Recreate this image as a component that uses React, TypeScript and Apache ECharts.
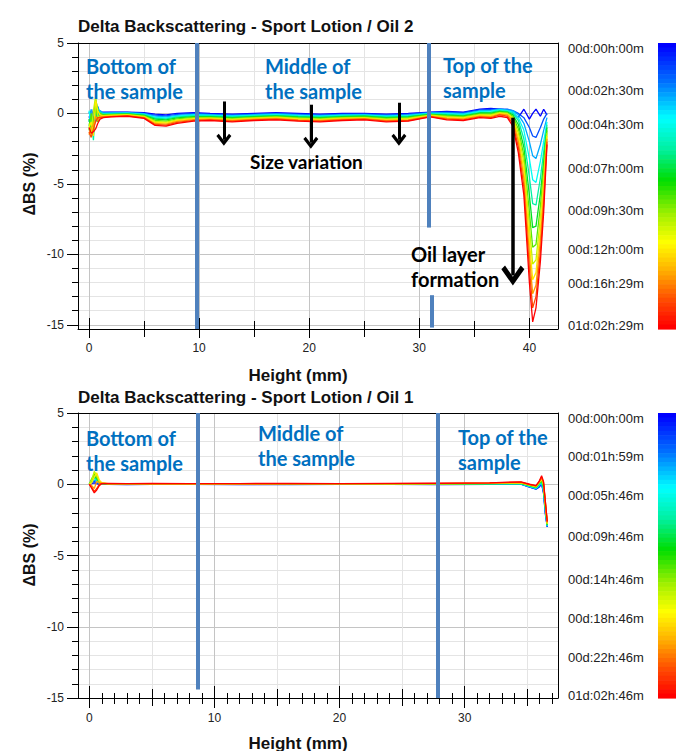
import React, { useEffect, useRef } from "react";
import * as echarts from "echarts";

// ---------- Top chart (Oil 2) ----------
const TOP_X = [0, 0.2, 0.4, 0.6, 0.8, 1.0, 1.3, 2, 3.5, 5, 6, 7, 8, 9.5, 11, 13, 15, 17, 19, 21, 23, 25, 27, 29, 31, 32.5, 34, 35.5, 36.5, 37.3, 38, 38.5, 39, 39.5, 40, 40.3, 40.6, 41, 41.3, 41.6];
const TOP_S0 = [-0.3, 0.2, -0.5, 0.4, 0.1, 0.1, 0.1, 0.1, 0.1, 0.05, -0.05, -0.1, 0, 0.05, 0, -0.05, 0, 0.05, 0, -0.05, 0, 0, -0.05, 0, 0.1, 0.15, 0.1, 0.3, 0.35, 0.3, 0.25, 0.1, -0.3, 0.3, -0.4, 0, 0.3, -0.2, 0.3, -0.1];
const TOP_S1 = [0.1, -0.4, 0.3, -0.6, 0.5, 0, 0.06, 0.07, 0.07, 0.01, -0.12, -0.17, -0.06, 0, -0.05, -0.1, -0.05, 0, -0.05, -0.1, -0.05, -0.04, -0.1, -0.05, 0.07, 0.1, 0.05, 0.25, 0.29, 0.3, 0.3, 0.2, 0, -0.3, -1.0, -1.6, -1.7, -1.0, -0.4, 0];
const TOP_S2 = [-0.6, 0.3, -1.0, 0.6, -0.2, 0.2, 0.03, 0.04, 0.05, -0.02, -0.19, -0.24, -0.13, -0.06, -0.09, -0.15, -0.09, -0.04, -0.1, -0.15, -0.09, -0.08, -0.15, -0.1, 0.04, 0.04, -0.01, 0.19, 0.22, 0.3, 0.25, 0.2, -0.1, -0.7, -2.0, -3.0, -3.2, -2.2, -1.2, -0.3];
const TOP_S3 = [0.2, -0.8, -1.5, 0.2, 0.4, -0.1, -0.01, 0.01, 0.02, -0.06, -0.27, -0.32, -0.19, -0.11, -0.14, -0.2, -0.14, -0.09, -0.15, -0.2, -0.14, -0.12, -0.2, -0.15, 0.01, -0.01, -0.06, 0.14, 0.16, 0.25, 0.2, 0.1, -0.3, -1.2, -3.2, -4.7, -4.9, -3.4, -2.0, -0.6];
const TOP_S4 = [-0.9, -0.3, -1.9, 0.8, -0.4, 0.1, -0.04, -0.03, -0.01, -0.09, -0.34, -0.39, -0.25, -0.17, -0.18, -0.25, -0.18, -0.13, -0.2, -0.25, -0.18, -0.16, -0.25, -0.2, -0.03, -0.07, -0.12, 0.08, 0.1, 0.2, 0.15, 0, -0.5, -1.8, -4.5, -6.4, -6.5, -4.6, -2.7, -0.8];
const TOP_S5 = [-0.4, -1.2, -0.6, 1.0, 0.3, -0.2, -0.08, -0.06, -0.04, -0.13, -0.41, -0.46, -0.32, -0.22, -0.23, -0.3, -0.23, -0.18, -0.25, -0.3, -0.23, -0.2, -0.3, -0.25, -0.06, -0.12, -0.17, 0.03, 0.03, 0.15, 0.1, -0.1, -0.8, -2.4, -5.8, -8.1, -8.0, -5.7, -3.4, -1.0];
const TOP_S6 = [-1.2, 0, -1.3, 0.5, -0.6, 0, -0.12, -0.09, -0.07, -0.17, -0.49, -0.54, -0.39, -0.28, -0.28, -0.35, -0.28, -0.23, -0.3, -0.35, -0.28, -0.25, -0.35, -0.3, -0.09, -0.18, -0.23, -0.03, -0.04, 0.1, 0.05, -0.2, -1.1, -3.0, -7.0, -9.5, -9.3, -6.6, -4.0, -1.2];
const TOP_S7 = [-0.7, -1.5, 0.2, 1.2, -0.2, -0.3, -0.16, -0.12, -0.09, -0.21, -0.56, -0.61, -0.45, -0.33, -0.32, -0.4, -0.32, -0.27, -0.35, -0.4, -0.32, -0.29, -0.4, -0.35, -0.12, -0.23, -0.28, -0.08, -0.1, 0.05, 0, -0.3, -1.4, -3.5, -8.0, -10.7, -10.4, -7.4, -4.6, -1.4];
const TOP_S8 = [-1.0, -0.6, -1.6, 0.9, 0.2, -0.1, -0.19, -0.16, -0.12, -0.24, -0.63, -0.68, -0.51, -0.39, -0.37, -0.45, -0.37, -0.32, -0.4, -0.45, -0.37, -0.33, -0.45, -0.4, -0.16, -0.29, -0.34, -0.14, -0.16, 0, -0.05, -0.4, -1.7, -4.0, -9.0, -11.8, -11.3, -8.2, -5.2, -1.6];
const TOP_S9 = [-1.5, -1.0, -0.8, -0.2, -0.5, -0.2, -0.23, -0.19, -0.15, -0.28, -0.71, -0.76, -0.57, -0.44, -0.41, -0.5, -0.41, -0.36, -0.45, -0.5, -0.41, -0.37, -0.5, -0.45, -0.19, -0.34, -0.39, -0.19, -0.22, -0.05, -0.1, -0.5, -2.0, -4.6, -10.0, -12.8, -12.2, -9.0, -5.8, -1.8];
const TOP_S10 = [-1.3, -1.7, -1.1, -0.6, -0.3, -0.3, -0.26, -0.22, -0.17, -0.31, -0.78, -0.83, -0.64, -0.5, -0.46, -0.55, -0.46, -0.41, -0.5, -0.55, -0.46, -0.41, -0.55, -0.5, -0.22, -0.4, -0.45, -0.25, -0.29, -0.1, -0.2, -0.7, -2.4, -5.2, -11.0, -13.8, -13.0, -9.8, -6.4, -2.0];
const TOP_S11 = [-1.0, -1.4, -1.3, -1.1, -0.7, -0.4, -0.3, -0.25, -0.2, -0.35, -0.85, -0.9, -0.7, -0.55, -0.5, -0.6, -0.5, -0.45, -0.55, -0.6, -0.5, -0.45, -0.6, -0.55, -0.25, -0.45, -0.5, -0.3, -0.35, -0.2, -0.3, -0.9, -2.8, -5.8, -12.0, -14.8, -13.8, -10.5, -7.0, -2.2];
const TOP_SERIES = [TOP_S0, TOP_S1, TOP_S2, TOP_S3, TOP_S4, TOP_S5, TOP_S6, TOP_S7, TOP_S8, TOP_S9, TOP_S10, TOP_S11];
const TOP_TIMES = ["00d:00h:00m", "00d:02h:30m", "00d:04h:30m", "00d:07h:00m", "00d:09h:30m", "00d:12h:00m", "00d:16h:29m", "01d:02h:29m"];
const TOP_TIME_Y = [48, 90, 124, 168, 210, 249, 283, 325];

// ---------- Bottom chart (Oil 1) ----------
const BOT_X = [0, 0.2, 0.4, 0.6, 0.8, 1.0, 1.5, 3, 5, 8, 12, 16, 20, 24, 28, 32, 33, 34.5, 35.2, 35.7, 35.95, 36.15, 36.3, 36.45, 36.6];
const BOT_S0 = [0, 0.05, 0.1, 0.05, 0, 0, 0, -0.02, 0, 0, -0.03, 0, 0, 0, -0.02, 0, 0, 0, -0.2, -0.35, -0.2, 0, -0.6, -2.1, -3.0];
const BOT_S1 = [0, 0.1, 0.2, 0.1, 0.05, 0, 0, 0, -0.01, 0, 0, -0.02, 0, 0, 0, 0.01, 0, 0, -0.2, -0.33, -0.15, 0.05, -0.55, -2.0, -3.0];
const BOT_S2 = [0, 0.15, 0.3, 0.2, 0.05, 0, 0.01, 0, 0, 0.01, 0, 0, -0.01, 0, 0.01, 0.02, 0.02, 0.02, -0.18, -0.3, -0.1, 0.1, -0.5, -1.9, -2.95];
const BOT_S3 = [0, 0.2, 0.4, 0.3, 0.1, 0.05, 0.01, 0.01, 0, 0.01, 0.01, 0, 0, 0.01, 0.01, 0.02, 0.03, 0.03, -0.15, -0.28, -0.05, 0.15, -0.4, -1.8, -2.9];
const BOT_S4 = [0, 0.3, 0.5, 0.3, 0.1, 0.05, 0.02, 0.01, 0.02, 0.01, 0.01, 0.02, 0.01, 0.01, 0.02, 0.03, 0.04, 0.05, -0.12, -0.25, 0, 0.2, -0.3, -1.7, -2.9];
const BOT_S5 = [0, 0.2, 0.6, 0.4, 0.15, 0.05, 0.02, 0.02, 0.02, 0.02, 0.01, 0.02, 0.02, 0.02, 0.02, 0.04, 0.05, 0.06, -0.1, -0.22, 0.05, 0.25, -0.2, -1.6, -2.85];
const BOT_S6 = [0, 0.4, 0.7, 0.5, 0.2, 0.05, 0.03, 0.02, 0.03, 0.02, 0.02, 0.03, 0.02, 0.03, 0.03, 0.05, 0.06, 0.08, -0.08, -0.2, 0.08, 0.3, -0.1, -1.5, -2.8];
const BOT_S7 = [0, 0.3, 0.9, 0.6, 0.2, 0.1, 0.03, 0.03, 0.03, 0.03, 0.03, 0.03, 0.03, 0.03, 0.04, 0.06, 0.08, 0.1, -0.06, -0.18, 0.1, 0.35, 0, -1.45, -2.8];
const BOT_S8 = [0, 0.1, 0.5, 0.8, 0.3, 0.1, 0.04, 0.04, 0.03, 0.04, 0.03, 0.04, 0.04, 0.04, 0.04, 0.07, 0.1, 0.12, -0.04, -0.15, 0.12, 0.4, 0.05, -1.4, -2.75];
const BOT_S9 = [0, -0.1, -0.3, 0.2, 0.1, 0.1, 0.05, 0.04, 0.04, 0.04, 0.04, 0.05, 0.04, 0.05, 0.05, 0.08, 0.1, 0.13, -0.03, -0.13, 0.15, 0.45, 0.1, -1.3, -2.7];
const BOT_S10 = [0, -0.2, -0.5, -0.3, 0, 0.05, 0.05, 0.05, 0.05, 0.05, 0.04, 0.05, 0.05, 0.05, 0.06, 0.09, 0.12, 0.15, -0.02, -0.12, 0.18, 0.5, 0.15, -1.25, -2.65];
const BOT_S11 = [0, -0.3, -0.6, -0.4, -0.1, 0.05, 0.06, 0.05, 0.06, 0.05, 0.05, 0.06, 0.05, 0.06, 0.07, 0.1, 0.13, 0.16, 0, -0.1, 0.2, 0.6, 0.2, -1.2, -2.6];
const BOT_SERIES = [BOT_S0, BOT_S1, BOT_S2, BOT_S3, BOT_S4, BOT_S5, BOT_S6, BOT_S7, BOT_S8, BOT_S9, BOT_S10, BOT_S11];
const BOT_TIMES = ["00d:00h:00m", "00d:01h:59m", "00d:05h:46m", "00d:09h:46m", "00d:14h:46m", "00d:18h:46m", "00d:22h:46m", "01d:02h:46m"];
const BOT_TIME_Y = [418, 456, 495, 536, 579, 618, 657, 695];

// ---------- ticks ----------
const Y_MAJOR = [-15, -10, -5, 0, 5];
const Y_MINOR = [-15, -14, -13, -12, -11, -10, -9, -8, -7, -6, -5, -4, -3, -2, -1, 0, 1, 2, 3, 4, 5];
const TOP_X_MAJOR = [0, 10, 20, 30, 40];
const TOP_X_FIVES = [0, 5, 10, 15, 20, 25, 30, 35, 40];
const TOP_X_MID = [5, 15, 25, 35];
const BOT_X_MAJOR = [0, 10, 20, 30];
const BOT_X_FIVES = [0, 5, 10, 15, 20, 25, 30, 35];
const BOT_X_ONES = [0, 1, 2, 3, 4, 5, 6, 7, 8, 9, 10, 11, 12, 13, 14, 15, 16, 17, 18, 19, 20, 21, 22, 23, 24, 25, 26, 27, 28, 29, 30, 31, 32, 33, 34, 35, 36, 37];

// ---------- annotations (data coords) ----------
const TOP_DIVIDERS = [[9.8, 5, -15.3], [30.9, 5, -8.1], [31.1, -12.9, -15.2]];
const TOP_SMALL_ARROWS = [[12.25, 0.85, -1.87], [20.15, 0.62, -2.08], [28.15, 0.76, -1.87]];
const TOP_BIG_ARROW = [38.5, -0.3, -11.5];
const BOT_DIVIDERS = [[8.66, 5, -14.4], [27.83, 5, -15]];

const STOPS: [number, number[]][] = [
  [0, [0, 0, 255]], [0.13, [0, 112, 255]], [0.26, [0, 255, 255]], [0.37, [0, 240, 160]],
  [0.48, [0, 221, 0]], [0.6, [160, 240, 0]], [0.7, [255, 255, 0]], [0.8, [255, 176, 0]],
  [0.9, [255, 80, 0]], [1, [255, 0, 0]],
];
function rainbow(t: number): string {
  for (let i = 0; i < STOPS.length - 1; i++) {
    const [t0, c0] = STOPS[i];
    const [t1, c1] = STOPS[i + 1];
    if (t <= t1) {
      const f = (t - t0) / (t1 - t0);
      const c = c0.map((v, j) => Math.round(v + (c1[j] - v) * f));
      return `rgb(${c[0]},${c[1]},${c[2]})`;
    }
  }
  return "rgb(255,0,0)";
}

const FONT = '"Liberation Sans", Arial, sans-serif';
const BLUE_TXT = "#0070c0";
const DIV_COLOR = "#4f81bd";
const CHEV = "path://M11,0 L22,15 L18.5,18.5 L11,8 L3.5,18.5 L0,15 Z";

function axis(gridIndex: number, min: number, max: number, position: string, o: any = {}) {
  return {
    type: "value",
    gridIndex, min, max, position,
    axisLine: { show: !!o.line, onZero: false, lineStyle: { color: "#000", width: 1 } },
    axisTick: o.ticks
      ? { show: true, customValues: o.ticks, length: o.len, inside: !!o.inside, lineStyle: { color: "#000", width: 1 } }
      : { show: false },
    axisLabel: o.labels
      ? { show: true, customValues: o.labels, margin: o.margin, fontFamily: FONT, fontSize: 12, color: "#222" }
      : { show: false },
    splitLine: o.split ? { show: true, lineStyle: { color: o.split, width: 1 } } : { show: false },
  };
}

function lineSeries(xs: number[], rows: number[][], xi: number, yi: number) {
  return rows.map((vals, k) => {
    const col = rainbow(k / (rows.length - 1));
    return {
      type: "line", xAxisIndex: xi, yAxisIndex: yi, silent: true, z: 2,
      showSymbol: false, symbol: "none",
      lineStyle: { width: 1.3, color: col }, itemStyle: { color: col },
      data: xs.map((x, i) => [x, vals[i]]),
    };
  });
}

function markSeries(xi: number, yi: number, dividers: number[][], small: number[][], big: number[] | null) {
  const data: any[] = [];
  dividers.forEach(([x, y0, y1]) => {
    data.push([
      { coord: [x, y0], symbol: "none", lineStyle: { color: DIV_COLOR, width: 4, type: "solid" } },
      { coord: [x, y1], symbol: "none" },
    ]);
  });
  small.forEach(([x, y0, y1]) => {
    data.push([
      { coord: [x, y0], symbol: "none", lineStyle: { color: "#000", width: 3, type: "solid" } },
      { coord: [x, y1], symbol: CHEV, symbolSize: [15, 12] },
    ]);
  });
  if (big) {
    data.push([
      { coord: [big[0], big[1]], symbol: "none", lineStyle: { color: "#000", width: 3.5, type: "solid" } },
      { coord: [big[0], big[2]], symbol: CHEV, symbolSize: [23, 20] },
    ]);
  }
  return {
    type: "line", xAxisIndex: xi, yAxisIndex: yi, data: [], z: 5, clip: false, silent: true,
    markLine: {
      silent: true, animation: false, symbol: ["none", "none"],
      label: { show: false }, emphasis: { disabled: true },
      data,
    },
  };
}

function colorBar(x: number, y: number, w: number, h: number) {
  const n = 64;
  const out: any[] = [];
  for (let i = 0; i < n; i++) {
    out.push({
      type: "rect", silent: true,
      shape: { x, y: y + (i * h) / n, width: w, height: h / n + 0.6 },
      style: { fill: rainbow(i / (n - 1)) },
    });
  }
  return out;
}

function text(x: number, y: number, t: string, font: string, fill: string, extra: any = {}) {
  return {
    type: "text", x, y, silent: true, z: 100, rotation: extra.rotation || 0,
    style: {
      text: t, font, fill, stroke: "none", lineWidth: 0,
      align: extra.align || "left", verticalAlign: extra.va || "top", lineHeight: 25,
    },
  };
}

export default function App() {
  const ref = useRef<HTMLDivElement>(null);
  useEffect(() => {
    if (!ref.current) return;
    const chart = echarts.init(ref.current, null, { renderer: "svg" });
    const gridLight = "#e4e4e4";
    const gridDark = "#c4c4c4";
    const option: any = {
      animation: false,
      backgroundColor: "#fff",
      grid: [
        { left: 78, top: 43, width: 480, height: 286, outerBoundsMode: "none" },
        { left: 78, top: 413, width: 480, height: 285, outerBoundsMode: "none" },
      ],
      xAxis: [
        // top chart: 0..4
        axis(0, -1, 42.6, "bottom", { line: true, ticks: TOP_X_MAJOR, len: 9, labels: TOP_X_MAJOR, margin: 13 }),
        axis(0, -1, 42.6, "bottom", { ticks: TOP_X_MID, len: 8 }),
        axis(0, -1, 42.6, "bottom", { ticks: TOP_X_FIVES, len: 8, inside: true, split: [gridDark, gridLight] }),
        axis(0, -1, 42.6, "bottom", { ticks: TOP_X_MAJOR, len: 11, inside: true }),
        axis(0, -1, 42.6, "top", { line: true }),
        // bottom chart: 5..11
        axis(1, -0.9, 37.46, "bottom", { line: true, ticks: BOT_X_MAJOR, len: 10, labels: BOT_X_MAJOR, margin: 14 }),
        axis(1, -0.9, 37.46, "bottom", { ticks: BOT_X_FIVES, len: 8, split: [gridDark, gridLight] }),
        axis(1, -0.9, 37.46, "bottom", { ticks: BOT_X_ONES, len: 6 }),
        axis(1, -0.9, 37.46, "bottom", { ticks: BOT_X_MAJOR, len: 12, inside: true }),
        axis(1, -0.9, 37.46, "bottom", { ticks: BOT_X_FIVES, len: 9, inside: true }),
        axis(1, -0.9, 37.46, "bottom", { ticks: BOT_X_ONES, len: 5, inside: true }),
        axis(1, -0.9, 37.46, "top", { line: true }),
      ],
      yAxis: [
        axis(0, -15.3, 5, "left", { line: true, ticks: Y_MAJOR, len: 11, labels: Y_MAJOR, margin: 14 }),
        axis(0, -15.3, 5, "left", { ticks: Y_MINOR, len: 6, split: [gridDark, gridLight, gridLight, gridLight, gridLight] }),
        axis(0, -15.3, 5, "right", { line: true }),
        axis(1, -15, 5, "left", { line: true, ticks: Y_MAJOR, len: 11, labels: Y_MAJOR, margin: 14 }),
        axis(1, -15, 5, "left", { ticks: Y_MINOR, len: 6, split: [gridDark, gridLight, gridLight, gridLight, gridLight] }),
        axis(1, -15, 5, "right", { line: true }),
      ],
      series: [
        ...lineSeries(TOP_X, TOP_SERIES, 0, 0),
        ...lineSeries(BOT_X, BOT_SERIES, 5, 3),
        markSeries(0, 0, TOP_DIVIDERS, TOP_SMALL_ARROWS, TOP_BIG_ARROW),
        markSeries(5, 3, BOT_DIVIDERS, [], null),
      ],
      graphic: [
        ...colorBar(658, 43, 18, 286),
        ...colorBar(658, 413, 18, 285),
        ...TOP_TIMES.map((t, i) => text(568, TOP_TIME_Y[i], t, `13px ${FONT}`, "#222", { va: "middle" })),
        ...BOT_TIMES.map((t, i) => text(568, BOT_TIME_Y[i], t, `13px ${FONT}`, "#222", { va: "middle" })),
        text(78, 26, "Delta Backscattering - Sport Lotion / Oil 2", `bold 17px ${FONT}`, "#111", { va: "middle" }),
        text(78, 397, "Delta Backscattering - Sport Lotion / Oil 1", `bold 17px ${FONT}`, "#111", { va: "middle" }),
        text(298, 375, "Height (mm)", `bold 17px ${FONT}`, "#111", { va: "middle", align: "center" }),
        text(298, 743, "Height (mm)", `bold 17px ${FONT}`, "#111", { va: "middle", align: "center" }),
        text(29, 184, "ΔBS (%)", `bold 16px ${FONT}`, "#111", { va: "middle", align: "center", rotation: Math.PI / 2 }),
        text(29, 555, "ΔBS (%)", `bold 16px ${FONT}`, "#111", { va: "middle", align: "center", rotation: Math.PI / 2 }),
        // top annotations
        text(86, 53.5, "Bottom of\nthe sample", "bold 20px Lato", BLUE_TXT),
        text(265, 53.5, "Middle of\nthe sample", "bold 20px Lato", BLUE_TXT),
        text(443, 52.5, "Top of the\nsample", "bold 20px Lato", BLUE_TXT),
        text(250, 161, "Size variation", "bold 19px Lato", "#000", { va: "middle" }),
        text(411, 241.5, "Oil layer\nformation", "bold 20px Lato", "#000"),
        // bottom annotations
        text(86, 425.5, "Bottom of\nthe sample", "bold 20px Lato", BLUE_TXT),
        text(258, 420.5, "Middle of\nthe sample", "bold 20px Lato", BLUE_TXT),
        text(458, 424.5, "Top of the\nsample", "bold 20px Lato", BLUE_TXT),
      ],
    };
    chart.setOption(option);
    return () => chart.dispose();
  }, []);
  return (
    <div
      ref={ref}
      style={{ position: "absolute", left: 0, top: 0, width: 676, height: 751, background: "#fff" }}
    />
  );
}
